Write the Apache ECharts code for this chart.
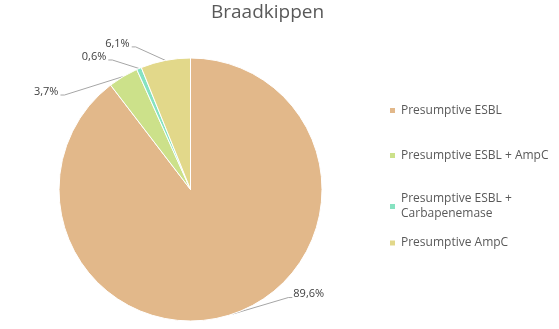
<!DOCTYPE html>
<html><head><meta charset="utf-8">
<script src="https://cdn.jsdelivr.net/npm/echarts@6/dist/echarts.min.js"></script>
<style>html,body{margin:0;padding:0;background:#fff}#c{width:559px;height:329px}</style>
</head><body><div id="c"></div>
<script>
const titleText = 'Braadkippen';
const categories = ['Presumptive ESBL', 'Presumptive ESBL + AmpC', 'Presumptive ESBL + Carbapenemase', 'Presumptive AmpC'];
const legendNames = ['Presumptive ESBL', 'Presumptive ESBL + AmpC', 'Presumptive ESBL +\nCarbapenemase', 'Presumptive AmpC'];
const values = [89.6, 3.7, 0.6, 6.1];
const colors = ['#E2B88A', '#CCE18A', '#86E2C1', '#E2D88A'];
// label offsets (text centre relative to the slice's edge anchor), styling only
const labelOffsets = [[76, -20], [-77, 15], [-45, -12], [-48, -17]];

const FONT = 'Open Sans';
const legendText = {fontFamily: FONT, fontSize: 12, color: '#595959', lineHeight: 15};
const chart = echarts.init(document.getElementById('c'), null, {renderer: 'canvas'});
chart.setOption({
  animation: false,
  title: {text: titleText, left: 211, top: 3, padding: 0,
    textStyle: {fontFamily: FONT, fontSize: 19, fontWeight: 'normal', color: '#595959'}},
  legend: [{
    orient: 'vertical', left: 388, top: 103, padding: 0, itemGap: 30,
    itemWidth: 7, itemHeight: 7, icon: 'rect',
    data: categories.slice(0, 3).map((c, i) => ({name: c, textStyle: i === 2 ? {height: 15} : {}})),
    formatter: name => legendNames[categories.indexOf(name)],
    textStyle: legendText
  }, {
    orient: 'vertical', left: 388, top: 235.5, padding: 0,
    itemWidth: 7, itemHeight: 7, icon: 'rect',
    data: categories.slice(3),
    textStyle: legendText
  }],
  series: [{
    type: 'pie', center: [190.5, 189.5], radius: 131.5, startAngle: 90, clockwise: true,
    avoidLabelOverlap: false,
    itemStyle: {borderColor: '#fff', borderWidth: 1},
    label: {show: true, position: 'outside', fontFamily: FONT, fontSize: 11, color: '#404040',
      formatter: p => p.value.toFixed(1).replace('.', ',') + '%'},
    labelLine: {show: true, length: 10, length2: 10, lineStyle: {color: '#A6A6A6', width: 1}},
    labelLayout: function (p) {
      const a = p.labelLinePoints[0];
      const off = labelOffsets[p.dataIndex];
      const w = p.labelRect.width, h = p.labelRect.height;
      const cx = a[0] + off[0], cy = a[1] + off[1];
      const right = off[0] > 0;
      const ex = right ? cx - w / 2 - 1 : cx + w / 2 + 2;
      const ly = cy + h / 2 - 2;
      return {
        x: cx, y: cy, align: 'center', verticalAlign: 'middle',
        labelLinePoints: [[a[0], a[1]], [ex + (right ? -4 : 4), ly], [ex, ly]]
      };
    },
    data: categories.map((c, i) => ({name: c, value: values[i], itemStyle: {color: colors[i]}}))
  }]
});
</script></body></html>
